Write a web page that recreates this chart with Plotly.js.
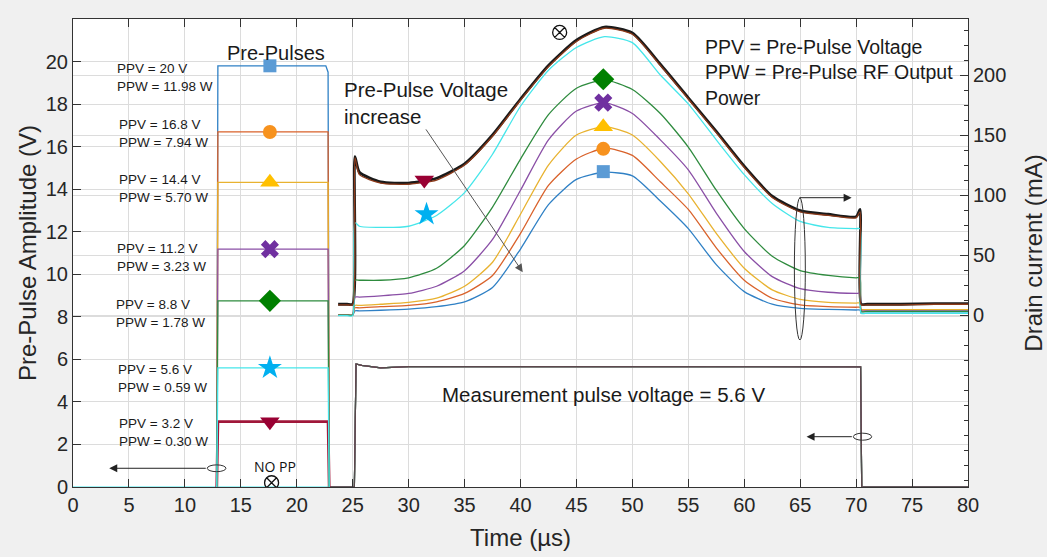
<!DOCTYPE html>
<html>
<head>
<meta charset="utf-8">
<script src="https://cdn.plot.ly/plotly-3.0.1.min.js"></script>
<style>
  html, body { margin: 0; padding: 0; background: #f0f0f0; }
  #chart { width: 1047px; height: 557px; }
</style>
</head>
<body>
<div id="chart"></div>
<script>
// ---- Gate (pre-pulse + measurement pulse) voltage, left axis, V ----
const tGate = [0, 12.85, 12.95, 22.6, 22.8, 22.9, 25.15, 25.3, 25.8, 27.5, 30, 70.4, 70.5, 80];
const gate20  = [0, 0, 19.8, 19.8, 19.5, 0, 0, 5.78, 5.72, 5.6, 5.66, 5.65, 0, 0];
const gate168 = [0, 0, 16.69, 16.69, 16.69, 0, 0, 5.78, 5.72, 5.6, 5.66, 5.65, 0, 0];
const gate144 = [0, 0, 14.32, 14.32, 14.32, 0, 0, 5.78, 5.72, 5.6, 5.66, 5.65, 0, 0];
const gate112 = [0, 0, 11.18, 11.18, 11.18, 0, 0, 5.78, 5.72, 5.6, 5.66, 5.65, 0, 0];
const gate88  = [0, 0, 8.75, 8.75, 8.75, 0, 0, 5.78, 5.72, 5.6, 5.66, 5.65, 0, 0];
const gate56  = [0, 0, 5.6, 5.6, 5.6, 0, 0, 5.78, 5.72, 5.6, 5.66, 5.65, 0, 0];
const gate32  = [0, 0, 3.07, 3.07, 3.07, 0, 0, 5.78, 5.72, 5.6, 5.66, 5.65, 0, 0];
const gateNoPP = [0, 0, 0, 0, 0, 0, 0, 5.78, 5.72, 5.6, 5.66, 5.65, 0, 0];
const PRE_PULSE_START = 1; // index in tGate where the pre-pulse starts rising
const PRE_PULSE_END = 5;   // index in tGate where the pre-pulse has fallen back to 0

// ---- Drain current, right axis, mA ----
const tDrain = [23.7, 24.5, 25.0, 25.2, 25.6, 27.5, 30, 32.5, 35, 37.5, 40, 42.5, 45, 47.5, 50,
                52.5, 55, 57.5, 60, 62.5, 65, 67.5, 70, 70.35, 70.45, 71, 74, 77, 80];
const idNoPP = [9, 9, 9, 132, 119, 111, 110, 114, 126, 150, 180, 208, 229, 240, 235,
                209, 181, 153, 124, 99, 87, 84, 82, 88, 9, 9, 9, 9.5, 9.5];
const id32   = [8.5, 8.5, 8.5, 131, 117, 110, 109, 112.5, 125, 149, 179, 207, 228, 239, 234,
                208, 180, 152, 123, 98, 86, 83, 81, 86, 8.5, 8.5, 8.5, 9, 9];
const id56   = [-0.5, -0.5, -0.5, 77, 74, 73, 74, 83, 102, 134, 174, 204, 223, 232, 227,
                200, 176, 146, 117, 93, 78, 73, 72, 72, 1.5, 1.5, 1.5, 1.5, 1.5];
const id88   = [0, 0, 0, 29, 29, 29, 31, 39, 58, 90, 130, 167, 189, 196, 188,
                168, 140, 104, 72, 49, 37, 33, 31, 31, 3, 3, 3, 3, 3];
const id112  = [0, 0, 0, 15, 15, 16, 18, 24, 37, 63, 104, 146, 170, 177, 168,
                146, 121, 85, 53, 32, 22, 19, 18, 18, 3.5, 3.5, 3.5, 3.5, 3.5];
const id144  = [0, 0, 0, 8, 8, 9, 10.5, 14, 24, 44, 84, 125, 150, 157, 150,
                128, 101, 68, 39, 21, 13, 10.5, 10, 10, 4.5, 4.5, 4.5, 4.5, 4.5];
const id168  = [0, 0, 0, 6, 6, 7, 8, 11, 18, 33, 68, 108, 130, 139, 133,
                111, 88, 56, 29, 14, 8.5, 7, 6.5, 6.5, 4.5, 4.5, 4.5, 4.5, 4.5];
const id20   = [0, 0, 0, 3.5, 3.5, 4, 5, 7, 11, 23, 55, 92, 113, 119, 116,
                95, 72, 42, 19.5, 9, 5.5, 4.7, 4.2, 4.2, 1.5, 1.5, 1.5, 1.5, 1.5];

// ---- Series labels ----
const ppvLabels = ['PPV = 20 V', 'PPV = 16.8 V', 'PPV = 14.4 V', 'PPV = 11.2 V',
                   'PPV = 8.8 V', 'PPV = 5.6 V', 'PPV = 3.2 V'];
const ppwLabels = ['PPW = 11.98 W', 'PPW = 7.94 W', 'PPW = 5.70 W', 'PPW = 3.23 W',
                   'PPW = 1.78 W', 'PPW = 0.59 W', 'PPW = 0.30 W'];

// ---- Marker positions on the curves ----
const tMarkPulse = 17.6;                // on the pre-pulse plateaus
const tMarkPeak = 47.4;                 // near the drain current peak
const peakMark = [119.5, 138.5, 157, 177, 196.5];   // mA: 20, 16.8, 14.4, 11.2, 8.8 V
const tMarkEarly = [31.6, 31.4];        // 5.6 V star, 3.2 V triangle
const earlyMark = [84, 112.5];          // mA
const noPPMark = {t: [17.75, 43.5], v: [0.2], mA: [235.5]};

const FONT = 'Liberation Sans, Arial, Helvetica, sans-serif';

const series = [
  {gate: gate20,  id: id20,  line: '#2f80c5', mk: '#5b9bd5', sym: 'square',        size: 13},
  {gate: gate168, id: id168, line: '#d9622b', mk: '#f7921e', sym: 'circle',        size: 14},
  {gate: gate144, id: id144, line: '#e8b230', mk: '#ffc000', sym: 'triangle-up',   size: 17},
  {gate: gate112, id: id112, line: '#8a4fa6', mk: '#7030a0', sym: 'x',             size: 16},
  {gate: gate88,  id: id88,  line: '#2e8b3e', mk: '#008000', sym: 'diamond',       size: 17},
  {gate: gate56,  id: id56,  line: '#45e6ea', mk: '#00b0f0', sym: 'star',          size: 18},
  {gate: gate32,  id: id32,  line: '#a0173a', mk: '#990033', sym: 'triangle-down', size: 17},
];

const traces = [];
const SPLINE = {shape: 'spline', smoothing: 0.6};

// drain current curves (right axis)
traces.push({x: tDrain, y: idNoPP, yaxis: 'y2', mode: 'lines',
  line: Object.assign({color: '#1a1a1a', width: 2.8}, SPLINE), hoverinfo: 'skip'});
[0, 1, 2, 3, 4, 5].forEach(i => {
  const s = series[i];
  traces.push({x: tDrain, y: s.id, yaxis: 'y2', mode: 'lines',
    line: Object.assign({color: s.line, width: 1.3}, SPLINE), hoverinfo: 'skip'});
});
traces.push({x: tDrain, y: id32, yaxis: 'y2', mode: 'lines',
  line: Object.assign({color: '#8b3a1a', width: 1.3}, SPLINE), hoverinfo: 'skip'});

// gate voltage: baseline and measurement pulse shared by all runs (thin)
traces.push({x: tGate, y: gateNoPP, yaxis: 'y', mode: 'lines',
  line: {color: '#45e6ea', width: 1.2}, hoverinfo: 'skip'});
series.forEach(s => {
  traces.push({x: tGate.slice(PRE_PULSE_END), y: s.gate.slice(PRE_PULSE_END),
    yaxis: 'y', mode: 'lines', line: {color: s.line, width: 1.2}, hoverinfo: 'skip'});
});
traces.push({x: tGate.slice(PRE_PULSE_END), y: gateNoPP.slice(PRE_PULSE_END), yaxis: 'y', mode: 'lines',
  line: {color: '#505050', width: 1}, hoverinfo: 'skip'});
// gate voltage: the pre-pulses themselves (maroon plateau drawn first so thinner edges sit on top)
[6, 0, 1, 2, 3, 4, 5].forEach(i => {
  const s = series[i];
  traces.push({x: tGate.slice(PRE_PULSE_START, PRE_PULSE_END + 1),
    y: s.gate.slice(PRE_PULSE_START, PRE_PULSE_END + 1),
    yaxis: 'y', mode: 'lines', line: {color: s.line, width: i === 6 ? 2.8 : 1.3}, hoverinfo: 'skip'});
});

// markers on the pre-pulse plateaus
series.forEach(s => {
  traces.push({x: [tMarkPulse], y: [s.gate[2]], yaxis: 'y', mode: 'markers',
    marker: {symbol: s.sym, size: s.size, color: s.mk, line: {width: 0}}, hoverinfo: 'skip'});
});
// markers on the drain current peaks
peakMark.forEach((v, i) => {
  const s = series[i];
  traces.push({x: [tMarkPeak], y: [v], yaxis: 'y2', mode: 'markers',
    marker: {symbol: s.sym, size: s.size, color: s.mk, line: {width: 0}}, hoverinfo: 'skip'});
});
// markers on the two low pre-pulse curves
earlyMark.forEach((v, i) => {
  const s = series[5 + i];
  traces.push({x: [tMarkEarly[i]], y: [v], yaxis: 'y2', mode: 'markers',
    marker: {symbol: s.sym, size: s.size, color: s.mk, line: {width: 0}}, hoverinfo: 'skip'});
});
// "no pre-pulse" markers
traces.push({x: [noPPMark.t[0]], y: noPPMark.v, yaxis: 'y', mode: 'markers',
  marker: {symbol: 'circle-x-open', size: 14, color: '#111', line: {width: 1.3}}, hoverinfo: 'skip'});
traces.push({x: [noPPMark.t[1]], y: noPPMark.mA, yaxis: 'y2', mode: 'markers',
  marker: {symbol: 'circle-x-open', size: 14, color: '#111', line: {width: 1.3}}, hoverinfo: 'skip'});

// PPV / PPW labels next to the pulses
const labelPos = [
  {x: 3.75, y: 19.25}, {x: 3.95, y: 16.6}, {x: 3.95, y: 14.01}, {x: 3.75, y: 10.79},
  {x: 3.7, y: 8.15}, {x: 3.85, y: 5.08}, {x: 3.95, y: 2.54}
];
const annotations = ppvLabels.map((p, i) => ({
  x: labelPos[i].x, y: labelPos[i].y, xref: 'x', yref: 'y',
  text: p + '<br>' + ppwLabels[i], showarrow: false, xanchor: 'left', yanchor: 'middle',
  align: 'left', font: {family: FONT, size: 13.5, color: '#1a1a1a'}
}));

const txt = (x, y, text, size, anchor, extra) => Object.assign({
  x: x, y: y, xref: 'x', yref: 'y', text: text, showarrow: false,
  xanchor: anchor || 'left', yanchor: 'middle', align: 'left',
  font: {family: FONT, size: size, color: '#1a1a1a'}
}, extra || {});

annotations.push(txt(18.14, 20.42, 'Pre-Pulses', 20, 'center'));
annotations.push(txt(24.0, 18.05, 'Pre-Pulse Voltage<br>increase', 20.5));
annotations.push(txt(56.33, 19.47, 'PPV = Pre-Pulse Voltage<br>PPW = Pre-Pulse RF Output<br>Power', 19.5));
annotations.push(txt(32.8, 4.33, 'Measurement pulse voltage = 5.6 V', 20.5));
annotations.push(txt(18.1, 0.955, 'NO PP', 14.5, 'center', {font: {family: 'Open Sans, Liberation Sans, sans-serif', size: 14, color: '#111'}}));

// arrows
const arrow = (x, y, ax, ay, color) => ({
  x: x, y: y, ax: ax, ay: ay, xref: 'x', yref: 'y', axref: 'x', ayref: 'y',
  text: '', showarrow: true, arrowhead: 2, arrowsize: 1.6, arrowwidth: 1,
  arrowcolor: color || '#222', standoff: 0, startstandoff: 0
});
annotations.push(arrow(40.2, 10.1, 31.46, 16.88, '#555'));
annotations.push(arrow(69.6, 13.6, 64.8, 13.6));
annotations.push(arrow(3.24, 0.88, 12.0, 0.88));
annotations.push(arrow(65.57, 2.365, 69.75, 2.365));

const shapes = [
  {type: 'circle', xref: 'x', yref: 'y', x0: 64.48, x1: 65.46, y0: 6.91, y1: 13.59,
   line: {color: '#333', width: 1}},
  {type: 'circle', xref: 'x', yref: 'y', x0: 12.0, x1: 13.67, y0: 0.72, y1: 1.04,
   line: {color: '#333', width: 1}},
  {type: 'circle', xref: 'x', yref: 'y', x0: 69.75, x1: 71.39, y0: 2.2, y1: 2.53,
   line: {color: '#333', width: 1}}
];

const AXC = '#333333';
const GRID = '#dcdcdc';

const layout = {
  width: 1047, height: 557,
  margin: {l: 73, r: 79, t: 19, b: 70, pad: 0},
  paper_bgcolor: '#f0f0f0', plot_bgcolor: '#ffffff',
  showlegend: false,
  font: {family: FONT, color: '#262626'},
  xaxis: {
    range: [0, 80], tickmode: 'linear', tick0: 0, dtick: 5,
    ticks: 'inside', ticklen: 8, tickcolor: AXC, showline: true, linecolor: AXC, mirror: 'ticks',
    showgrid: true, gridcolor: GRID, zeroline: false,
    tickfont: {size: 20, color: '#262626'},
    title: {text: 'Time (µs)', font: {size: 24, color: '#262626'}, standoff: 14}
  },
  yaxis: {
    range: [0, 22], tickmode: 'array', tickvals: [0, 2, 4, 6, 8, 10, 12, 14, 16, 18, 20],
    ticks: 'inside', ticklen: 8, tickcolor: AXC, showline: true, linecolor: AXC,
    showgrid: true, gridcolor: GRID, zeroline: false,
    tickfont: {size: 20, color: '#262626'},
    title: {text: 'Pre-Pulse Amplitude (V)', font: {size: 24, color: '#262626'}, standoff: 2}
  },
  yaxis2: {
    overlaying: 'y', side: 'right', range: [-143.3, 246.7],
    tickmode: 'array', tickvals: [0, 50, 100, 150, 200],
    ticks: 'inside', ticklen: 8, tickcolor: AXC, showline: true, linecolor: AXC,
    minor: {tickmode: 'linear', tick0: 0, dtick: 12.5, ticks: 'inside', ticklen: 4,
            tickcolor: AXC, showgrid: false},
    showgrid: true, gridcolor: GRID, zeroline: false,
    tickfont: {size: 20, color: '#262626'},
    title: {text: 'Drain current (mA)', font: {size: 24, color: '#262626'}, standoff: 20}
  },
  annotations: annotations,
  shapes: shapes
};

Plotly.newPlot('chart', traces, layout, {staticPlot: true, displayModeBar: false});
</script>
</body>
</html>
